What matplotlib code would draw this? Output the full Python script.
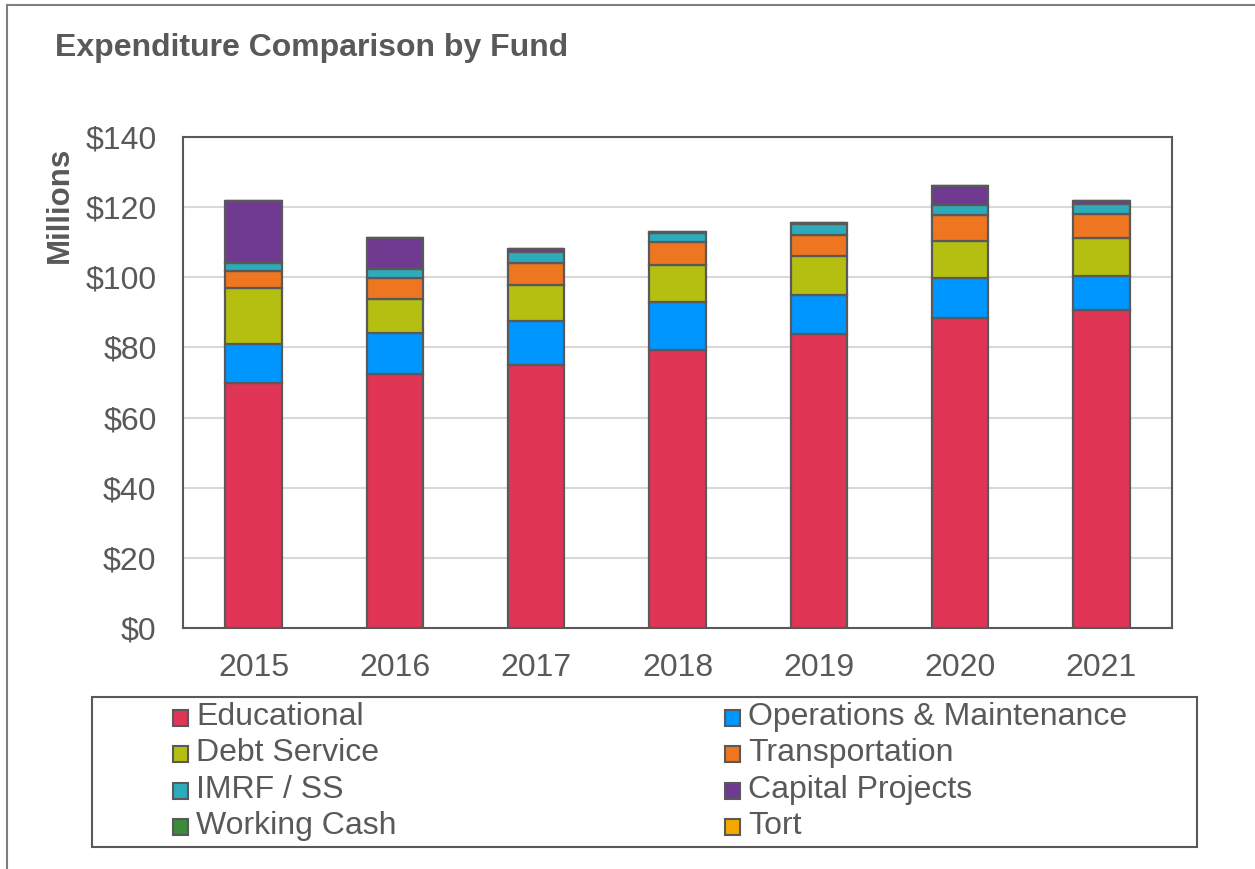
import matplotlib
matplotlib.use("Agg")
import matplotlib.pyplot as plt
from matplotlib.patches import Rectangle
from matplotlib.lines import Line2D
import numpy as np

plt.rcParams['font.family'] = ['Liberation Sans', 'DejaVu Sans']

years = ["2015", "2016", "2017", "2018", "2019", "2020", "2021"]
educational = [69.8, 72.4, 75.0, 79.3, 83.8, 88.5, 90.7]
operations = [11.1, 11.7, 12.4, 13.6, 11.2, 11.3, 9.7]
debt_service = [16.0, 9.8, 10.3, 10.6, 11.1, 10.6, 10.8]
transportation = [4.8, 5.9, 6.3, 6.5, 6.0, 7.3, 6.9]
imrf_ss = [2.3, 2.5, 3.1, 2.7, 3.2, 2.8, 2.8]
capital_projects = [17.8, 8.9, 1.0, 0.3, 0.3, 5.4, 0.9]
working_cash = [0, 0, 0, 0, 0, 0, 0]
tort = [0, 0, 0, 0, 0, 0, 0]

series_names = ["Educational", "Operations & Maintenance", "Debt Service", "Transportation",
                "IMRF / SS", "Capital Projects", "Working Cash", "Tort"]
series_values = [educational, operations, debt_service, transportation,
                 imrf_ss, capital_projects, working_cash, tort]
colors = ["#E03555", "#0096FF", "#B5BF12", "#EE7621", "#2EABBB", "#6F3A8F", "#3C8A3C", "#F5A800"]

W, H = 1255, 869
fig = plt.figure(figsize=(W / 100, H / 100), dpi=100)

def fx(px):
    return px / W

def fy(py):
    return 1 - py / H

ax_l, ax_r, ax_t, ax_b = 183, 1172, 137, 628
ax = fig.add_axes([fx(ax_l), fy(ax_b), fx(ax_r - ax_l), (ax_b - ax_t) / H])

text_col = "#595959"
edge_col = "#595959"

x = np.arange(len(years))
bottom = np.zeros(len(years))
for name, vals, c in zip(series_names, series_values, colors):
    v = np.array(vals, dtype=float)
    ax.bar(x, v, width=0.4, bottom=bottom, color=c, edgecolor=edge_col,
           linewidth=1.6, zorder=3)
    bottom += v

ax.set_xlim(-0.5, len(years) - 0.5)
ax.set_ylim(0, 140)
ax.set_yticks(np.arange(0, 141, 20))
ax.set_yticklabels([f"${v}" for v in range(0, 141, 20)])
ax.set_xticks(x)
ax.set_xticklabels(years)
ax.tick_params(axis='both', length=0, labelsize=23, colors=text_col)
ax.tick_params(axis='y', pad=19)
ax.tick_params(axis='x', pad=18)
ax.yaxis.grid(True, color="#D9D9D9", linewidth=1.5, zorder=0)
ax.set_axisbelow(True)
for s in ax.spines.values():
    s.set_color(edge_col)
    s.set_linewidth(1.5)

fig.text(fx(55), fy(48), "Expenditure Comparison by Fund", fontsize=23, fontweight='bold',
         color=text_col, ha='left', va='center')
fig.text(fx(60), fy(205), "Millions", fontsize=22.5, fontweight='bold', color=text_col,
         rotation=90, ha='center', va='center')

# outer frame lines
fig.add_artist(Line2D([fx(7), fx(1255)], [fy(5), fy(5)], color="#7F7F7F", linewidth=1.5))
fig.add_artist(Line2D([fx(7), fx(7)], [fy(5), fy(869)], color="#7F7F7F", linewidth=1.5))

# legend frame
fig.add_artist(Rectangle((fx(92), fy(847)), fx(1197 - 92), (847 - 697) / H, transform=fig.transFigure,
                         facecolor='none', edgecolor=edge_col, linewidth=1.5))
row_y = [718, 754, 791, 827]
col_x = [173, 725]
order = [[0, 1], [2, 3], [4, 5], [6, 7]]
for r, pair in enumerate(order):
    for cidx, si in enumerate(pair):
        mx = col_x[cidx]
        my = row_y[r]
        fig.add_artist(Rectangle((fx(mx), fy(my + 8)), fx(15), 16 / H, transform=fig.transFigure,
                                 facecolor=colors[si], edgecolor=edge_col, linewidth=1.5))
        fig.text(fx(mx + 23), fy(my - 1), series_names[si], fontsize=23, color=text_col,
                 ha='left', va='center')

fig.savefig("out.png", dpi=100, facecolor="white")
